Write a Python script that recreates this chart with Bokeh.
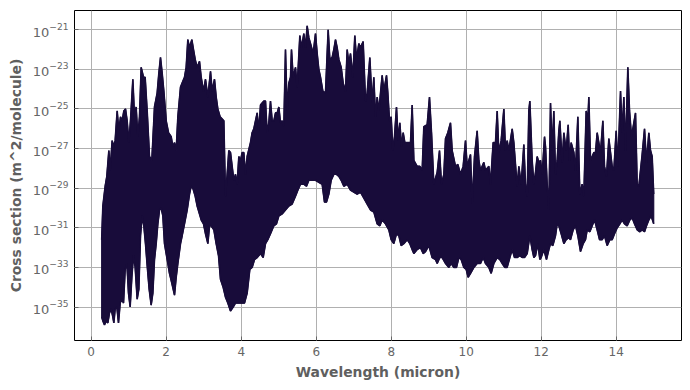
from bokeh.plotting import figure
from bokeh.models import Range1d, FixedTicker
from bokeh.embed import file_html
from bokeh.resources import INLINE

# Upper envelope of the absorption cross-section spectrum (wavelength in micron, log10 of m^2/molecule)
wl_upper = [0.28, 0.311, 0.373, 0.417, 0.471, 0.506, 0.559, 0.604, 0.639, 0.693, 0.737, 0.782, 0.826, 0.871,
            0.915, 0.959, 1.004, 1.048, 1.111, 1.155, 1.199, 1.244, 1.288, 1.333, 1.395, 1.439, 1.493, 1.555,
            1.617, 1.688, 1.759, 1.804, 1.848, 1.893, 1.937, 2.000, 2.062, 2.133, 2.177, 2.222, 2.266, 2.311,
            2.382, 2.444, 2.488, 2.533, 2.577, 2.622, 2.684, 2.728, 2.773, 2.826, 2.888, 2.933, 2.995, 3.048,
            3.111, 3.182, 3.226, 3.288, 3.333, 3.377, 3.439, 3.537, 3.581, 3.626, 3.670, 3.715, 3.759, 3.804,
            3.848, 3.892, 3.937, 3.981, 4.026, 4.070, 4.115, 4.159, 4.248, 4.292, 4.337, 4.381, 4.426, 4.470,
            4.515, 4.559, 4.604, 4.648, 4.692, 4.737, 4.781, 4.826, 4.870, 4.915, 4.959, 5.004, 5.048, 5.092,
            5.137, 5.181, 5.226, 5.270, 5.315, 5.341, 5.386, 5.448, 5.492, 5.564, 5.608, 5.670, 5.715, 5.759,
            5.804, 5.848, 5.919, 5.981, 6.026, 6.070, 6.115, 6.177, 6.248, 6.319, 6.364, 6.426, 6.470, 6.515,
            6.559, 6.604, 6.666, 6.719, 6.781, 6.826, 6.870, 6.915, 6.977, 7.030, 7.075, 7.137, 7.181, 7.252,
            7.315, 7.359, 7.430, 7.492, 7.537, 7.581, 7.626, 7.670, 7.715, 7.759, 7.804, 7.875, 7.910, 7.955,
            7.999, 8.044, 8.088, 8.141, 8.186, 8.230, 8.275, 8.319, 8.364, 8.470, 8.515, 8.559, 8.604, 8.692,
            8.764, 8.826, 8.870, 8.959, 9.021, 9.075, 9.137, 9.226, 9.288, 9.341, 9.404, 9.448, 9.510, 9.581,
            9.626, 9.715, 9.777, 9.848, 9.919, 9.981, 10.026, 10.115, 10.159, 10.221, 10.292, 10.337, 10.381,
            10.470, 10.515, 10.604, 10.648, 10.719, 10.781, 10.826, 10.870, 10.932, 11.004, 11.048, 11.092,
            11.137, 11.226, 11.270, 11.359, 11.404, 11.466, 11.537, 11.581, 11.626, 11.670, 11.697, 11.759,
            11.804, 11.848, 11.892, 11.937, 11.981, 12.026, 12.088, 12.115, 12.159, 12.204, 12.248, 12.292,
            12.337, 12.381, 12.426, 12.470, 12.497, 12.559, 12.604, 12.666, 12.719, 12.755, 12.799, 12.870,
            12.915, 12.977, 13.030, 13.092, 13.137, 13.199, 13.244, 13.270, 13.315, 13.404, 13.448, 13.492,
            13.581, 13.644, 13.688, 13.741, 13.804, 13.892, 13.937, 13.999, 14.044, 14.115, 14.159, 14.204,
            14.248, 14.310, 14.355, 14.408, 14.470, 14.515, 14.559, 14.604, 14.648, 14.692, 14.755, 14.808,
            14.870, 14.915, 14.959, 15.000]
log_sigma_upper = [-31.6, -29.9, -28.9, -28.4, -27.1, -28.1, -26.6, -26.9, -26.6, -25.1, -26.1, -25.4, -25.6, -25.1,
                   -25.0, -25.6, -26.7, -25.6, -23.5, -25.4, -24.9, -26.4, -25.4, -22.9, -23.4, -23.4, -25.1, -27.4,
                   -27.6, -24.9, -24.2, -23.2, -22.4, -23.2, -24.1, -25.6, -26.2, -26.4, -26.9, -26.7, -27.1, -25.4,
                   -23.9, -23.6, -23.4, -22.9, -21.5, -21.9, -21.5, -22.0, -22.5, -22.9, -22.6, -23.4, -24.1, -23.5,
                   -24.4, -23.1, -24.1, -23.5, -24.4, -25.0, -25.4, -25.6, -29.4, -28.3, -27.1, -27.2, -27.9, -28.6,
                   -28.3, -28.8, -27.4, -27.6, -27.2, -27.2, -28.3, -27.4, -26.7, -26.2, -26.0, -25.6, -25.2, -26.1,
                   -24.8, -24.7, -24.6, -24.6, -26.2, -25.7, -24.6, -25.6, -25.6, -25.2, -25.2, -24.9, -25.7, -25.6,
                   -25.9, -22.0, -25.1, -23.7, -23.4, -22.0, -23.4, -22.9, -23.9, -21.3, -21.9, -21.2, -21.9, -20.8,
                   -21.4, -21.7, -22.2, -21.2, -22.2, -23.0, -23.4, -24.1, -24.2, -21.0, -22.5, -22.4, -22.0, -21.5,
                   -21.9, -22.5, -22.9, -23.7, -24.1, -22.0, -22.7, -22.2, -23.4, -21.3, -22.5, -21.7, -21.9, -21.6,
                   -24.6, -24.2, -22.4, -24.7, -23.4, -25.4, -24.4, -25.1, -24.2, -23.3, -24.1, -23.3, -24.2, -25.6,
                   -25.4, -27.1, -26.4, -24.9, -26.6, -25.7, -26.9, -26.2, -26.7, -26.7, -26.7, -24.8, -27.6, -27.9,
                   -27.9, -28.1, -25.9, -25.8, -24.4, -26.2, -28.8, -28.2, -27.1, -28.8, -28.3, -26.5, -26.2, -25.7,
                   -27.1, -27.9, -27.8, -28.3, -27.9, -26.6, -27.9, -27.3, -29.8, -27.4, -26.1, -27.6, -28.1,
                   -27.7, -28.1, -27.9, -28.8, -26.7, -26.7, -25.1, -27.2, -26.6, -25.0, -27.1, -26.6,
                   -27.1, -26.0, -26.7, -28.9, -27.9, -28.8, -26.8, -28.8, -29.4, -25.1, -24.6, -27.6,
                   -28.8, -28.2, -27.4, -27.7, -27.6, -28.3, -26.4, -26.9, -28.8, -30.1, -24.7, -27.1,
                   -25.1, -28.3, -27.6, -26.1, -25.6, -27.7, -26.2, -27.1, -25.8, -27.6, -26.7, -27.2,
                   -28.1, -25.4, -29.3, -28.8, -29.4, -25.1, -25.6, -24.4, -27.6, -27.2, -27.2, -26.2,
                   -27.2, -25.6, -27.9, -28.4, -26.5, -27.9, -28.1, -26.1, -27.9, -24.1, -26.2, -24.4,
                   -27.1, -22.9, -25.1, -26.4, -25.7, -25.2, -28.8, -28.9, -28.1, -27.3, -26.0, -27.7,
                   -26.2, -27.1, -27.4, -29.3]

# Lower envelope of the spectrum
wl_lower = [0.28, 0.311, 0.355, 0.399, 0.444, 0.488, 0.533, 0.577, 0.604, 0.639, 0.684, 0.728, 0.773, 0.817,
            0.862, 0.906, 0.951, 0.995, 1.039, 1.084, 1.128, 1.173, 1.226, 1.271, 1.315, 1.359, 1.404, 1.448,
            1.493, 1.546, 1.599, 1.644, 1.688, 1.733, 1.777, 1.822, 1.866, 1.911, 1.955, 2.026, 2.088, 2.151,
            2.222, 2.266, 2.311, 2.382, 2.426, 2.488, 2.560, 2.622, 2.666, 2.711, 2.773, 2.826, 2.888, 2.933,
            2.995, 3.048, 3.111, 3.155, 3.199, 3.271, 3.333, 3.395, 3.448, 3.519, 3.581, 3.644, 3.715, 3.786,
            3.848, 3.937, 4.026, 4.088, 4.159, 4.230, 4.292, 4.355, 4.426, 4.515, 4.586, 4.648, 4.710, 4.781,
            4.870, 4.941, 5.004, 5.092, 5.181, 5.270, 5.359, 5.448, 5.510, 5.581, 5.670, 5.741, 5.804, 5.892,
            5.981, 6.070, 6.159, 6.221, 6.275, 6.337, 6.399, 6.470, 6.541, 6.604, 6.666, 6.737, 6.826, 6.915,
            7.004, 7.092, 7.181, 7.270, 7.359, 7.448, 7.537, 7.626, 7.697, 7.759, 7.848, 7.937, 7.999, 8.070,
            8.141, 8.204, 8.266, 8.337, 8.426, 8.497, 8.559, 8.604, 8.692, 8.781, 8.852, 8.915, 9.004, 9.092,
            9.181, 9.226, 9.297, 9.359, 9.448, 9.537, 9.599, 9.670, 9.741, 9.804, 9.866, 9.937, 9.999, 10.052,
            10.115, 10.204, 10.292, 10.381, 10.452, 10.515, 10.604, 10.666, 10.737, 10.826, 10.897, 10.959,
            11.030, 11.092, 11.164, 11.226, 11.288, 11.359, 11.430, 11.492, 11.555, 11.626, 11.697, 11.759,
            11.804, 11.848, 11.910, 11.964, 11.999, 12.070, 12.141, 12.204, 12.248, 12.310, 12.381, 12.426,
            12.470, 12.533, 12.604, 12.666, 12.737, 12.781, 12.852, 12.915, 12.977, 13.048, 13.119, 13.181,
            13.226, 13.297, 13.359, 13.421, 13.492, 13.555, 13.626, 13.688, 13.759, 13.830, 13.892, 13.955,
            14.026, 14.097, 14.159, 14.221, 14.292, 14.364, 14.426, 14.488, 14.559, 14.630, 14.692, 14.755,
            14.808, 14.870, 14.932, 15.000]
log_sigma_lower = [-35.5, -35.7, -35.9, -35.7, -35.8, -35.3, -35.1, -35.5, -35.8, -35.1, -35.0, -35.8, -34.8, -34.6,
                   -34.8, -33.1, -32.8, -34.3, -35.0, -33.5, -32.4, -33.0, -34.6, -34.1, -31.4, -30.4, -30.9, -31.8,
                   -32.9, -34.1, -34.9, -34.3, -32.6, -31.8, -30.8, -30.1, -30.0, -30.4, -31.8, -32.6, -33.3, -33.8,
                   -34.4, -33.5, -32.8, -31.8, -31.4, -30.8, -30.1, -29.3, -28.9, -29.0, -29.4, -29.9, -30.3, -30.6,
                   -30.8, -31.3, -31.8, -30.9, -30.9, -31.1, -31.8, -32.4, -33.6, -34.0, -34.5, -34.8, -35.2, -35.0,
                   -34.8, -34.8, -34.8, -34.8, -34.3, -33.1, -33.0, -32.6, -32.5, -32.3, -32.5, -31.8, -31.6, -31.3,
                   -30.9, -30.8, -30.4, -30.3, -30.1, -29.9, -29.8, -29.4, -29.1, -28.8, -28.8, -28.9, -28.6, -28.6,
                   -28.6, -28.7, -28.8, -29.7, -29.7, -29.3, -28.6, -28.3, -28.3, -28.4, -28.6, -28.9, -28.8, -29.1,
                   -29.2, -29.3, -29.2, -29.5, -29.8, -30.1, -30.2, -30.8, -30.9, -30.6, -30.8, -31.1, -31.6, -31.8,
                   -31.3, -31.4, -31.9, -31.8, -31.6, -31.8, -32.1, -32.3, -32.1, -32.0, -32.3, -32.2, -31.9, -32.5,
                   -32.6, -32.8, -32.5, -32.5, -32.8, -33.0, -32.8, -33.0, -33.0, -32.5, -32.6, -33.0, -33.1, -33.5,
                   -33.3, -33.0, -32.8, -32.8, -32.5, -32.8, -33.0, -33.3, -32.8, -32.5, -32.6, -32.8,
                   -33.0, -33.0, -32.5, -32.1, -32.5, -32.5, -32.4, -32.5, -32.5, -32.3, -31.4, -32.1,
                   -32.5, -32.4, -31.8, -32.6, -32.5, -32.1, -32.6, -32.1, -31.8, -31.9, -31.4, -30.8,
                   -30.9, -31.3, -31.8, -31.6, -31.5, -31.6, -31.1, -30.9, -31.4, -32.2, -31.8, -31.6,
                   -31.1, -31.2, -30.9, -30.6, -31.1, -31.6, -31.6, -31.4, -31.9, -31.6, -31.6, -31.3,
                   -31.0, -30.8, -30.6, -30.8, -30.9, -30.6, -30.5, -30.8, -31.1, -31.2, -31.1, -31.2,
                   -30.9, -30.6, -30.4, -30.8]

x_ticks = [0, 2, 4, 6, 8, 10, 12, 14]
y_tick_exponents = [-35, -33, -31, -29, -27, -25, -23, -21]

x_label = "Wavelength (micron)"
y_label = "Cross section (m^2/molecule)"

sigma_upper = [10.0 ** v for v in log_sigma_upper]
sigma_lower = [10.0 ** v for v in log_sigma_lower]

line_color = "#180c3a"
text_gray = "#666666"
label_gray = "#5f5f5f"
font = "DejaVu Sans"

p = figure(width=682, height=382, output_backend="svg", toolbar_location=None,
           y_axis_type="log",
           x_range=Range1d(-0.445, 15.741),
           y_range=Range1d(10.0 ** -36.69, 10.0 ** -20.03))
p.min_border_left = 74
p.min_border_right = 1
p.min_border_top = 10
p.min_border_bottom = 41

# filled band between envelopes
p.patch(wl_upper + wl_lower[::-1], sigma_upper + sigma_lower[::-1],
        fill_color=line_color, line_color=line_color, line_width=1.2)
p.line(wl_upper, sigma_upper, line_color=line_color, line_width=1.6)
p.line(wl_lower, sigma_lower, line_color=line_color, line_width=1.6)

p.xaxis.ticker = FixedTicker(ticks=x_ticks)
p.yaxis.ticker = FixedTicker(ticks=[10.0 ** e for e in y_tick_exponents])

for ax in (p.xaxis, p.yaxis):
    ax.axis_line_color = None
    ax.major_tick_in = 4
    ax.major_tick_out = 0
    ax.major_tick_line_color = text_gray
    ax.minor_tick_line_color = None
    ax.major_label_text_color = text_gray
    ax.major_label_text_font = font
    ax.major_label_text_font_size = "12px"
    ax.axis_label_text_color = label_gray
    ax.axis_label_text_font = font
    ax.axis_label_text_font_style = "bold"
    ax.axis_label_text_font_size = "13.9px"

p.yaxis.major_label_text_font_size = "13px"
p.xaxis.axis_label = x_label
p.yaxis.axis_label = y_label
p.xaxis.major_label_standoff = 6
p.yaxis.major_label_standoff = 6
p.xaxis.axis_label_standoff = 5
p.yaxis.axis_label_standoff = 6

p.xgrid.ticker = FixedTicker(ticks=x_ticks)
p.ygrid.ticker = FixedTicker(ticks=[10.0 ** e for e in y_tick_exponents])
p.grid.grid_line_color = "#b0b0b0"
p.grid.grid_line_width = 1

p.outline_line_color = "black"
p.outline_line_width = 1
p.background_fill_color = "white"
p.border_fill_color = "white"

open("out.html", "w").write(file_html(p, INLINE))
